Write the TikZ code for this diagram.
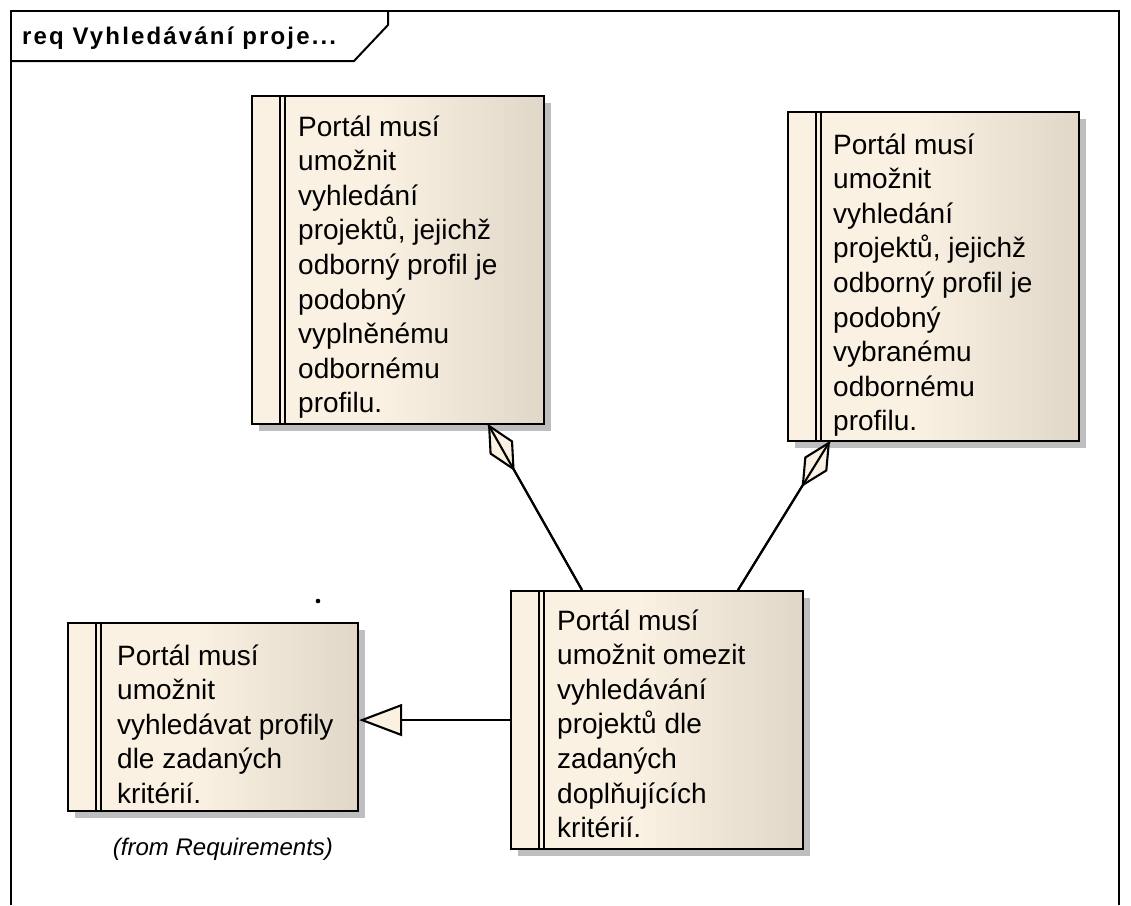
\documentclass[tikz,border=0pt]{standalone}
\usepackage{fontspec}
\setmainfont{Liberation Sans}
\newfontfamily\titlefont[LetterSpace=9]{Liberation Sans}
\usetikzlibrary{arrows.meta,shadows,calc}
\definecolor{reqA}{RGB}{251,241,227}
\definecolor{reqB}{RGB}{224,215,201}
\definecolor{shadowc}{RGB}{190,190,190}
\pgfdeclarehorizontalshading{reqshade}{100bp}{color(0bp)=(reqA); color(25bp)=(reqA); color(47bp)=(reqA); color(75bp)=(reqB); color(100bp)=(reqB)}
\newcommand{\reqlines}[1]{\parbox[t]{260pt}{\raggedright\fontsize{28pt}{34.6pt}\selectfont #1}}
\tikzset{
  reqbox/.style={rectangle, draw=black, line width=2.1pt, shading=reqshade, inner sep=0pt, anchor=north west,
    drop shadow={shadow xshift=7pt, shadow yshift=-7pt, fill=shadowc, opacity=1},
    path picture={
      \draw[line width=1.8pt] ([xshift=28pt]path picture bounding box.north west) -- ([xshift=28pt]path picture bounding box.south west);
      \draw[line width=1.8pt] ([xshift=33pt]path picture bounding box.north west) -- ([xshift=33pt]path picture bounding box.south west);
    }},
  reqtext/.style={anchor=base west, inner sep=0pt, text=black},
  conn/.style={line width=2.1pt, draw=black},
  gen/.style={conn, -{Triangle[length=43pt, width=32pt, fill=reqA]}},
  aggr/.style={conn, -{Diamond[length=54pt, width=27pt, fill=reqA]}},
  frameline/.style={line width=2pt, draw=black},
}
\begin{document}
\begin{tikzpicture}[x=1pt, y=-1pt]
\useasboundingbox (0,0) rectangle (1131,905);
% frame
\draw[frameline] (11,905) -- (11,11) -- (1119,11) -- (1119,905);
\draw[frameline] (11,61) -- (354,61) -- (388,25) -- (388,11);
\node[anchor=base west, inner sep=0pt] (title) at (22,44) {\titlefont\fontsize{24pt}{28pt}\selectfont\bfseries req Vyhledávání proje...};
% boxes
\node[reqbox, minimum width=292pt, minimum height=328pt] (r1) at (251,95) {};
\node[reqbox, minimum width=291pt, minimum height=329pt] (r2) at (787,111) {};
\node[reqbox, minimum width=292pt, minimum height=258pt] (r3) at (510,590) {};
\node[reqbox, minimum width=290pt, minimum height=188pt] (r4) at (67,622) {};
% texts
\node[reqtext] (r1t) at (298,136) {\reqlines{Portál musí\\umožnit\\vyhledání\\projektů, jejichž\\odborný profil je\\podobný\\vyplněnému\\odbornému\\profilu.}};
\node[reqtext] (r2t) at (833,154) {\reqlines{Portál musí\\umožnit\\vyhledání\\projektů, jejichž\\odborný profil je\\podobný\\vybranému\\odbornému\\profilu.}};
\node[reqtext] (r3t) at (557,630) {\reqlines{Portál musí\\umožnit omezit\\vyhledávání\\projektů dle\\zadaných\\doplňujících\\kritérií.}};
\node[reqtext] (r4t) at (117,665) {\reqlines{Portál musí\\umožnit\\vyhledávat profily\\dle zadaných\\kritérií.}};
\node[anchor=base, inner sep=0pt] (from) at (223,855) {\fontsize{24pt}{28pt}\selectfont\itshape (from Requirements)};
% dot
\fill (318,601) circle (2.3pt);
% connectors
\coordinate (a1) at (488,424);
\coordinate (b1) at (582,590);
\coordinate (a2) at (830,441);
\coordinate (b2) at (738,590);
\draw[aggr] (b1) -- (a1);
\draw[conn] (b1) -- (a1);
\draw[aggr] (b2) -- (a2);
\draw[conn] (b2) -- (a2);
\draw[gen] (r3.west) -- (r3.west -| r4.east);
\end{tikzpicture}
\end{document}
